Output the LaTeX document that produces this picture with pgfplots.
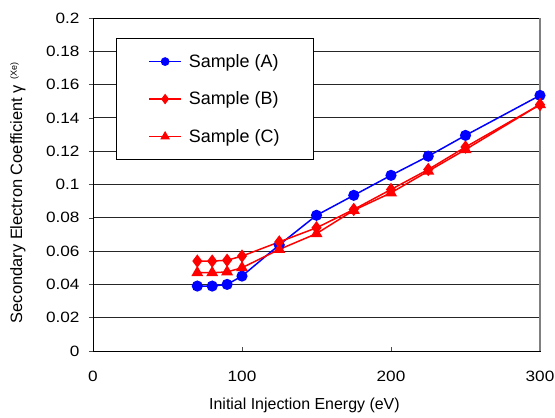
\documentclass[border=0pt]{standalone}
\usepackage{pgfplots}
\pgfplotsset{compat=1.18}
\usepackage{fontspec}
\setmainfont{Liberation Sans}
\newfontfamily\tickfont{Liberation Sans}[FakeStretch=1.15]
\begin{document}
\begin{tikzpicture}[x=1bp,y=1bp]
\begin{axis}[
  scale only axis,
  width=447bp, height=333bp,
  xmin=0, xmax=300, ymin=0, ymax=0.2,
  xtick={0,100,200,300},
  ytick={0,0.02,...,0.2},
  yticklabels={0,0.02,0.04,0.06,0.08,0.1,0.12,0.14,0.16,0.18,0.2},
  /pgf/number format/assume math mode=true,
  tick label style={font=\tickfont\fontsize{15}{17}\selectfont},
  label style={font=\fontsize{16}{18}\selectfont},
  xlabel={Initial Injection Energy (eV)},
  ylabel={\fontsize{16.5}{18}\selectfont Secondary Electron Coefficient γ\,\,\raisebox{0.6ex}{\fontsize{9}{10}\selectfont (Xe)}},
  xlabel style={at={(axis description cs:0.473,-0.162)}, anchor=center},
  ylabel style={at={(axis description cs:-0.168,0.475)}, anchor=center, rotate=0},
  ymajorgrids,
  major grid style={black!85, line width=0.9pt},
  axis line style={black, line width=0.9pt},
  xtick pos=bottom, ytick pos=left,
  xtick align=inside, ytick align=outside,
  major tick length=4bp,
  tick style={black!70, line width=0.6pt},
  xticklabel style={yshift=-17bp},
  yticklabel style={xshift=-6bp},
  clip=false,
  legend style={at={(0.0515,0.94)}, anchor=north west, draw=black, line width=0.7pt,
    fill=white, font=\fontsize{18}{20}\selectfont, row sep=19bp,
    inner xsep=32bp, inner ysep=14bp,
    nodes={inner sep=2bp}},
  legend cell align=left,
  legend image code/.code={
    \draw[mark repeat=2, mark phase=2, #1, every mark/.append style={scale=0.75}] plot coordinates {(0bp,0bp) (16bp,0bp) (32bp,0bp)};
    \path (37bp,0bp);
  },
]
\addplot[blue, line width=1.5pt, mark=*, mark size=4.8pt, mark options={solid, fill=blue}] coordinates {
(70,0.039) (80,0.039) (90,0.040) (100,0.045) (125,0.0637) (150,0.0815)
(175,0.0935) (200,0.1055) (225,0.117) (250,0.1295) (300,0.1535)};
\addlegendentry{Sample (A)}
\addplot[red, line width=1.5pt, mark=diamond*, mark size=5.5pt, mark options={solid, fill=red}] coordinates {
(70,0.054) (80,0.054) (90,0.0545) (100,0.057) (125,0.0655) (150,0.074)
(175,0.085) (200,0.097) (225,0.109) (250,0.1225) (300,0.148)};
\addlegendentry{Sample (B)}
\addplot[red, line width=1.5pt, mark=triangle*, mark size=5.5pt, mark options={solid, fill=red}] coordinates {
(70,0.047) (80,0.047) (90,0.0475) (100,0.050) (125,0.061) (150,0.0705)
(175,0.0845) (200,0.095) (225,0.108) (250,0.121) (300,0.148)};
\addlegendentry{Sample (C)}
\draw[black!50, line width=1.2pt] (rel axis cs:1,0) -- (rel axis cs:1,1);
\end{axis}
\pgfresetboundingbox
\path[use as bounding box] (-93bp,-67bp) rectangle (462bp,351bp);
\end{tikzpicture}
\end{document}
